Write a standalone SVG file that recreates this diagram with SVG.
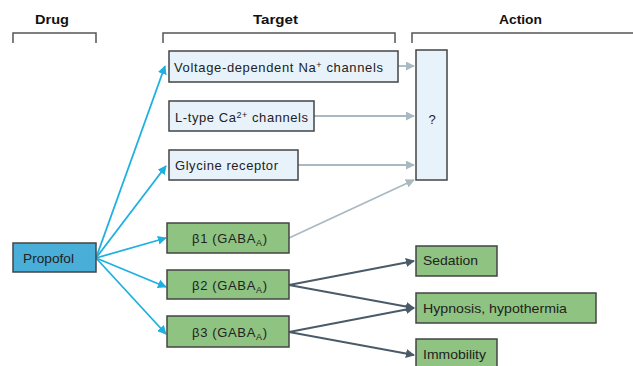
<svg xmlns="http://www.w3.org/2000/svg" width="633" height="366" viewBox="0 0 633 366">
<style>
text{font-family:"Liberation Sans",Arial,sans-serif;font-size:13px;fill:#222}
.hdr{font-weight:bold;font-size:13px;fill:#111}
.br{fill:none;stroke:#555;stroke-width:1.5}
.lb{fill:#e8f2fa;stroke:#444;stroke-width:1.5}
.gr{fill:#8fc381;stroke:#444;stroke-width:1.5}
.pr{fill:#4aafd8;stroke:#444;stroke-width:1.5}
.cb{fill:none;stroke:#1fb0e0;stroke-width:1.8;marker-end:url(#ab)}
.cg{fill:none;stroke:#a9b9c2;stroke-width:1.8;marker-end:url(#ag)}
.cd{fill:none;stroke:#4a5a68;stroke-width:1.8;marker-end:url(#ad)}
</style>
<defs>
<marker id="ab" viewBox="0 0 10 10" refX="9" refY="5" markerWidth="5" markerHeight="5" markerUnits="strokeWidth" orient="auto"><path d="M0,0 L10,5 L0,10 z" fill="#1fb0e0"/></marker>
<marker id="ag" viewBox="0 0 10 10" refX="9" refY="5" markerWidth="5" markerHeight="5" markerUnits="strokeWidth" orient="auto"><path d="M0,0 L10,5 L0,10 z" fill="#a9b9c2"/></marker>
<marker id="ad" viewBox="0 0 10 10" refX="9" refY="5" markerWidth="5" markerHeight="5" markerUnits="strokeWidth" orient="auto"><path d="M0,0 L10,5 L0,10 z" fill="#4a5a68"/></marker>
</defs>
<g id="headers">
<text class="hdr" x="35" y="24" textLength="34" lengthAdjust="spacingAndGlyphs">Drug</text>
<text class="hdr" x="253" y="24" textLength="45" lengthAdjust="spacingAndGlyphs">Target</text>
<text class="hdr" x="499" y="24" textLength="43" lengthAdjust="spacingAndGlyphs">Action</text>
<path class="br" d="M13,43 V33 H96 V43"/>
<path class="br" d="M163,43 V33 H395 V43"/>
<path class="br" d="M412,43 V33 H640"/>
</g>
<g id="connectors">
<path class="cb" d="M96,258 L165,66"/>
<path class="cb" d="M96,258 L166,166"/>
<path class="cb" d="M96,258 L166,238"/>
<path class="cb" d="M96,258 L166,287"/>
<path class="cb" d="M96,258 L166,334"/>
<path class="cg" d="M398,66 L414,66"/>
<path class="cg" d="M314,116 L414,116"/>
<path class="cg" d="M298,165 L414,165"/>
<path class="cg" d="M289,238 L414,180"/>
<path class="cd" d="M289,285 L414,261"/>
<path class="cd" d="M289,285 L414,308"/>
<path class="cd" d="M289,332 L414,308"/>
<path class="cd" d="M289,332 L414,355"/>
</g>
<g id="propofol"><rect class="pr" x="13" y="243" width="83" height="29"/><text x="23" y="263" textLength="51" lengthAdjust="spacingAndGlyphs">Propofol</text></g>
<g id="nav"><rect class="lb" x="169" y="51" width="229" height="31"/><text x="174" y="72" textLength="209" lengthAdjust="spacing">Voltage-dependent Na<tspan font-size="9" dy="-4">+</tspan><tspan dy="4"> channels</tspan></text></g>
<g id="cav"><rect class="lb" x="169" y="101" width="145" height="30"/><text x="175" y="122" textLength="133" lengthAdjust="spacing">L-type Ca<tspan font-size="9" dy="-4">2+</tspan><tspan dy="4"> channels</tspan></text></g>
<g id="gly"><rect class="lb" x="169" y="150" width="129" height="30"/><text x="175" y="170" textLength="103" lengthAdjust="spacing">Glycine receptor</text></g>
<g id="unknown"><rect class="lb" x="416" y="50" width="31" height="130"/><text x="432" y="124" text-anchor="middle" font-size="14">?</text></g>
<g id="b1"><rect class="gr" x="167" y="223" width="122" height="30"/><text x="192" y="243" textLength="75" lengthAdjust="spacing">β1 (GABA<tspan font-size="9" dy="3">A</tspan><tspan dy="-3">)</tspan></text></g>
<g id="b2"><rect class="gr" x="167" y="270" width="122" height="29"/><text x="192" y="290" textLength="75" lengthAdjust="spacing">β2 (GABA<tspan font-size="9" dy="3">A</tspan><tspan dy="-3">)</tspan></text></g>
<g id="b3"><rect class="gr" x="167" y="316" width="122" height="31"/><text x="192" y="337" textLength="75" lengthAdjust="spacing">β3 (GABA<tspan font-size="9" dy="3">A</tspan><tspan dy="-3">)</tspan></text></g>
<g id="sedation"><rect class="gr" x="416" y="246" width="81" height="30"/><text x="423" y="265" textLength="55" lengthAdjust="spacingAndGlyphs">Sedation</text></g>
<g id="hypnosis"><rect class="gr" x="416" y="293" width="180" height="30"/><text x="423" y="313" textLength="144" lengthAdjust="spacingAndGlyphs">Hypnosis, hypothermia</text></g>
<g id="immobility"><rect class="gr" x="416" y="339" width="81" height="30"/><text x="423" y="359" textLength="63" lengthAdjust="spacingAndGlyphs">Immobility</text></g>
</svg>
